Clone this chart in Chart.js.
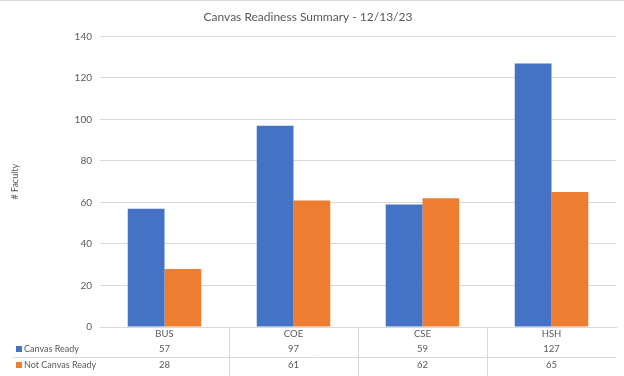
<!DOCTYPE html>
<html>
<head>
<meta charset="utf-8">
<script src="https://cdn.jsdelivr.net/npm/chart.js@4.4.1/dist/chart.umd.min.js"></script>
<style>
  html, body { margin: 0; padding: 0; background: #ffffff; }
  #wrap { position: relative; width: 624px; height: 376px; }
  canvas { display: block; }
</style>
</head>
<body>
<div id="wrap"><canvas id="c" width="624" height="376"></canvas></div>
<script>
const categories = ["BUS", "COE", "CSE", "HSH"];
const canvasReady = [57, 97, 59, 127];
const notCanvasReady = [28, 61, 62, 65];
const seriesNames = ["Canvas Ready", "Not Canvas Ready"];
const seriesColors = ["#4472C4", "#ED7D31"];
const yTicks = [0, 20, 40, 60, 80, 100, 120, 140];
const chartTitle = "Canvas Readiness Summary - 12/13/23";
const yTitle = "# Faculty";

const FONT = "Lato, 'Open Sans', sans-serif";
const TEXT = "#595959";
const GRID = "#D9D9D9";

const seriesData = [canvasReady, notCanvasReady];

const tablePlugin = {
  id: "dataTable",
  afterDraw(chart) {
    const ctx = chart.ctx;
    const xs = chart.scales.x;
    const area = chart.chartArea;
    const n = categories.length;
    const step = (area.right - area.left) / n;
    ctx.save();
    // outer top border line
    ctx.strokeStyle = GRID;
    ctx.lineWidth = 1;
    ctx.beginPath();
    ctx.moveTo(0, 0.5); ctx.lineTo(chart.width, 0.5);
    ctx.stroke();
    // vertical separators between categories
    ctx.beginPath();
    for (let i = 1; i < n; i++) {
      const x = Math.round(area.left + step * i) + 0.5;
      ctx.moveTo(x, area.bottom);
      ctx.lineTo(x, chart.height);
    }
    // row separator
    const rowY = [area.bottom + 7, area.bottom + 22, area.bottom + 38];
    const sepY = Math.round(area.bottom + 30) + 0.5;
    ctx.moveTo(13, sepY); ctx.lineTo(area.right, sepY);
    ctx.stroke();

    ctx.fillStyle = TEXT;
    ctx.font = "9.5px " + FONT;
    ctx.textAlign = "center";
    ctx.textBaseline = "middle";
    categories.forEach((c, i) => {
      const x = xs.getPixelForValue(i);
      ctx.fillText(c, x, rowY[0]);
      ctx.fillText(String(seriesData[0][i]), x, rowY[1]);
      ctx.fillText(String(seriesData[1][i]), x, rowY[2]);
    });
    // series labels with legend keys
    ctx.textAlign = "left";
    ctx.font = "9px " + FONT;
    seriesNames.forEach((s, k) => {
      const y = rowY[k + 1];
      ctx.fillStyle = seriesColors[k];
      ctx.fillRect(16, Math.round(y - 3), 6, 6);
      ctx.fillStyle = TEXT;
      ctx.fillText(s, 24, y);
    });
    ctx.restore();
  }
};

new Chart(document.getElementById("c"), {
  type: "bar",
  data: {
    labels: categories,
    datasets: [
      { label: seriesNames[0], data: canvasReady, backgroundColor: seriesColors[0], borderWidth: 0 },
      { label: seriesNames[1], data: notCanvasReady, backgroundColor: seriesColors[1], borderWidth: 0 }
    ]
  },
  options: {
    responsive: false,
    animation: false,
    devicePixelRatio: 1,
    layout: { padding: { left: 0, right: 8, top: 0, bottom: 0 } },
    datasets: { bar: { categoryPercentage: 0.57, barPercentage: 1.0 } },
    plugins: {
      legend: { display: false },
      tooltip: { enabled: false },
      title: {
        display: true,
        text: chartTitle,
        color: TEXT,
        font: { family: FONT, size: 12, weight: "normal" },
        padding: { top: 10, bottom: 12 }
      }
    },
    scales: {
      x: {
        ticks: { display: false },
        grid: { display: false, drawTicks: false },
        border: { display: true, color: GRID, width: 1 },
        afterFit(scale) { scale.height = 49; }
      },
      y: {
        min: yTicks[0],
        max: yTicks[yTicks.length - 1],
        afterBuildTicks(scale) { scale.ticks = yTicks.map(v => ({ value: v })); },
        ticks: { color: TEXT, font: { family: FONT, size: 10 }, padding: 8 },
        grid: { color: GRID, drawTicks: false },
        border: { display: false },
        title: {
          display: true,
          text: yTitle,
          color: TEXT,
          font: { family: FONT, size: 9 },
          padding: { top: 10, bottom: 0 }
        },
        afterFit(scale) { scale.width = 100; }
      }
    }
  },
  plugins: [tablePlugin]
});
</script>
</body>
</html>
